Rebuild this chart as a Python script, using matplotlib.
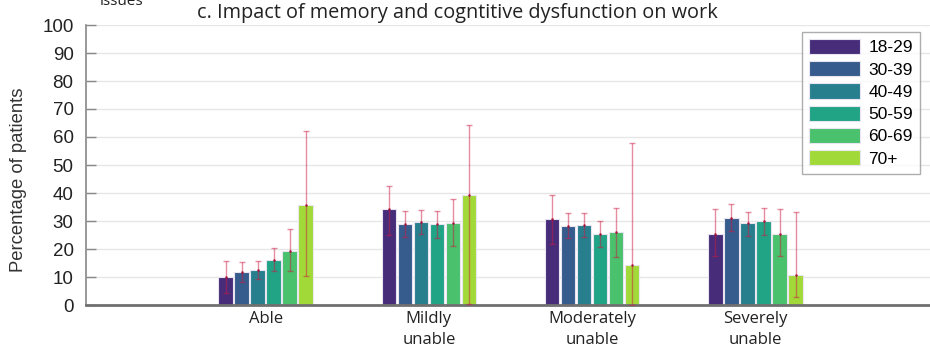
import matplotlib
matplotlib.use("Agg")
import matplotlib.pyplot as plt
import numpy as np

categories = ["Able", "Mildly\nunable", "Moderately\nunable", "Severely\nunable"]
age_groups = ["18-29", "30-39", "40-49", "50-59", "60-69", "70+"]

# percentage of patients per age group (rows) for each work-impact category (columns)
values = [
    [9.9, 34.2, 30.7, 25.5],
    [11.8, 28.8, 28.2, 31.1],
    [12.6, 29.8, 28.6, 29.2],
    [16.1, 28.8, 25.2, 29.9],
    [19.2, 29.4, 25.9, 25.5],
    [35.7, 39.3, 14.3, 10.7],
]
ci_low = [
    [4.4, 25.0, 21.8, 17.6],
    [8.3, 24.3, 23.8, 26.4],
    [9.4, 25.2, 24.3, 24.6],
    [12.0, 23.9, 20.7, 25.0],
    [12.0, 21.1, 17.1, 17.5],
    [10.2, 0.2, 0.0, 2.9],
]
ci_high = [
    [15.8, 42.6, 39.4, 34.2],
    [15.4, 33.7, 33.0, 36.0],
    [15.8, 34.0, 32.7, 33.3],
    [20.2, 33.6, 30.0, 34.8],
    [27.0, 38.0, 34.6, 34.3],
    [62.1, 64.3, 57.7, 33.3],
]
colors = ["#472c7a", "#355c8c", "#277f8e", "#21a386", "#49c16d", "#a1da38"]
yticks = list(range(0, 101, 10))

W, H = 930, 349
fig = plt.figure(figsize=(W / 100, H / 100), dpi=100)
ax = fig.add_axes([86 / W, 1 - 305 / H, (W - 86) / W + 0.002, (305 - 25) / H])

x = np.arange(1, len(categories) + 1)
pitch = 0.098
bw = 0.089
for i, (lab, col) in enumerate(zip(age_groups, colors)):
    xs = x + (i - 2.5) * pitch
    v = np.array(values[i])
    lo = v - np.array(ci_low[i])
    hi = np.array(ci_high[i]) - v
    ax.bar(xs, v, width=bw, color=col, edgecolor="#e8e4f0", linewidth=0.8,
           label=lab, zorder=2)
    ax.errorbar(xs, v, yerr=[lo, hi], fmt="o", ms=1.8,
                color=(0.62, 0.0, 0.16, 0.85), mec="none",
                ecolor=(0.8, 0.1, 0.26, 0.5), elinewidth=1.0, capsize=2,
                capthick=1.0, zorder=3)

ax.set_xlim(-0.1, 5.08)
ax.set_ylim(0, 100)
ax.set_yticks(yticks)
ax.set_yticklabels([str(t) for t in yticks], fontfamily="Liberation Sans",
                   fontsize=13.5, color="#222222")
ax.tick_params(axis="y", direction="in", length=7, width=1, color="#888888", pad=9)
ax.set_xticks(x)
ax.set_xticklabels(categories, fontfamily="Open Sans", fontsize=12,
                   color="#222222", linespacing=1.45)
ax.tick_params(axis="x", length=0, pad=4)
ax.yaxis.grid(True, color="#e6e6e6", linewidth=1.0, zorder=0)
ax.set_axisbelow(True)

for s in ["top", "right"]:
    ax.spines[s].set_visible(False)
ax.spines["left"].set_color("#888888")
ax.spines["left"].set_linewidth(1.2)
ax.spines["bottom"].set_color("#707070")
ax.spines["bottom"].set_linewidth(2.0)

ax.set_ylabel("Percentage of patients", fontfamily="Liberation Sans",
              fontsize=13.3, color="#333333")
ax.yaxis.set_label_coords(-(86 - 27) / (W - 86), (305 - 180) / 280)

fig.text(457 / W, 1 - 13 / H, "c. Impact of memory and cogntitive dysfunction on work",
         ha="center", va="center", fontfamily="Open Sans", fontsize=14.3,
         color="#222222")
fig.text(100 / W, 1 - 9 / H, "issues", ha="left", va="bottom",
         fontfamily="Open Sans", fontsize=11, color="#222222")

leg = ax.legend(loc="upper right", bbox_to_anchor=(920 / W, 1 - 32 / H),
                bbox_transform=fig.transFigure, prop={"family": "Liberation Sans", "size": 12.5},
                frameon=True, fancybox=False, edgecolor="#999999",
                handlelength=2.95, handleheight=0.96, handletextpad=0.5,
                labelspacing=0.33, borderpad=0.4, borderaxespad=0)
leg.get_frame().set_linewidth(1.0)

fig.savefig("out.png", dpi=100)
